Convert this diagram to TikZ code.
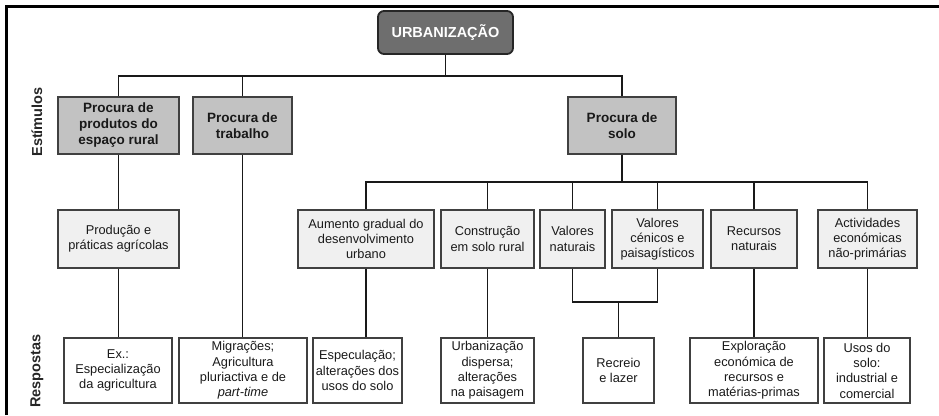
\documentclass[tikz,border=0pt]{standalone}
\usepackage{fontspec}
\setmainfont{Liberation Sans}
\definecolor{urbfill}{HTML}{6E6E6E}
\definecolor{stimfill}{HTML}{C2C2C2}
\definecolor{midfill}{HTML}{F0F0F0}
\definecolor{boxline}{HTML}{404040}
\definecolor{txt}{HTML}{1A1A1A}
\begin{document}
\begin{tikzpicture}[x=1pt,y=-1pt,
  base/.style={draw=boxline,line width=1.2pt,inner sep=0pt,align=center,text=txt,
    font=\fontsize{12.8}{15.3}\selectfont},
  urbbox/.style={draw=black!85,line width=1.8pt,rounded corners=6pt,fill=urbfill,text=white,
    inner sep=0pt,font=\bfseries\fontsize{14.5}{16}\selectfont},
  stimbox/.style={base,fill=stimfill,font=\bfseries\fontsize{13.5}{16}\selectfont,text=black!90},
  midbox/.style={base,fill=midfill},
  respbox/.style={base,fill=white},
  conn/.style={line width=1.6pt,black!90},
  side/.style={rotate=90,font=\bfseries\fontsize{14.5}{16}\selectfont,text=black!85}
]
\useasboundingbox (0,0) rectangle (939,415);
\draw[line width=2.6pt] (6.3,415) -- (6.3,6.3) -- (939,6.3);

\node[urbbox,minimum width=135pt,minimum height=43pt] (urb) at (445.5,32.5) {URBANIZAÇÃO};

\node[stimbox,minimum width=121pt,minimum height=57pt] (s1) at (118.5,125.5) {Procura de\\produtos do\\espaço rural};
\node[stimbox,minimum width=99pt,minimum height=57pt] (s2) at (242.5,125.5) {Procura de\\trabalho};
\node[stimbox,minimum width=108pt,minimum height=57pt] (s3) at (622,125.5) {Procura de\\solo};

\node[midbox,minimum width=121pt,minimum height=58pt] (prod) at (118.5,239) {Produção e\\práticas agrícolas};
\node[midbox,minimum width=136pt,minimum height=58pt] (aum) at (366,239) {Aumento gradual do\\desenvolvimento\\urbano};
\node[midbox,minimum width=93pt,minimum height=58pt] (cons) at (487.5,239) {Construção\\em solo rural};
\node[midbox,minimum width=65pt,minimum height=58pt] (vn) at (572.5,239) {Valores\\naturais};
\node[midbox,minimum width=91pt,minimum height=58pt] (vc) at (657.5,239) {Valores\\cénicos e\\paisagísticos};
\node[midbox,minimum width=86pt,minimum height=58pt] (rn) at (754,239) {Recursos\\naturais};
\node[midbox,minimum width=99pt,minimum height=58pt] (act) at (867.5,239) {Actividades\\económicas\\não-primárias};

\node[respbox,minimum width=108pt,minimum height=65pt] (ex) at (118,370.5) {Ex.:\\Especialização\\da agricultura};
\node[respbox,minimum width=128pt,minimum height=65pt] (mig) at (243,370.5) {Migrações;\\Agricultura\\pluriactiva e de\\\textit{part-time}};
\node[respbox,minimum width=89pt,minimum height=65pt] (esp) at (357.5,370.5) {Especulação;\\alterações dos\\usos do solo};
\node[respbox,minimum width=93pt,minimum height=65pt] (urbd) at (487.5,370.5) {Urbanização\\dispersa;\\alterações\\na paisagem};
\node[respbox,minimum width=71pt,minimum height=65pt] (rec) at (618.5,370.5) {Recreio\\e lazer};
\node[respbox,minimum width=128pt,minimum height=65pt] (expl) at (754,370.5) {Exploração\\económica de\\recursos e\\matérias-primas};
\node[respbox,minimum width=86pt,minimum height=65pt] (usos) at (867,370.5) {Usos do\\solo:\\industrial e\\comercial};

\node[side] (est) at (37,122) {Estímulos};
\node[side] (res) at (37,371) {Respostas};

\coordinate (j1) at (445.5,76);
\coordinate (j2) at (622,182);
\coordinate (j3) at (618.5,302);

\draw[conn] (urb.south) -- (j1);
\draw[conn] (s1.north) -- (s1.north |- j1) -- (s3.north |- j1) -- (s3.north);
\draw[conn] (s2.north) -- (s2.north |- j1);

\draw[conn] (s1.south) -- (prod.north);
\draw[conn] (prod.south) -- (prod.south |- ex.north);
\draw[conn] (s2.south) -- (s2.south |- mig.north);

\draw[conn] (s3.south) -- (j2);
\draw[conn] (aum.north) -- (aum.north |- j2) -- (act.north |- j2) -- (act.north);
\draw[conn] (cons.north) -- (cons.north |- j2);
\draw[conn] (vn.north) -- (vn.north |- j2);
\draw[conn] (vc.north) -- (vc.north |- j2);
\draw[conn] (rn.north) -- (rn.north |- j2);

\draw[conn] (aum.south) -- (aum.south |- esp.north);
\draw[conn] (cons.south) -- (urbd.north);
\draw[conn] (vn.south) -- (vn.south |- j3) -- (vc.south |- j3) -- (vc.south);
\draw[conn] (rec.north) -- (rec.north |- j3);
\draw[conn] (rn.south) -- (expl.north);
\draw[conn] (act.south) -- (act.south |- usos.north);
\end{tikzpicture}
\end{document}
